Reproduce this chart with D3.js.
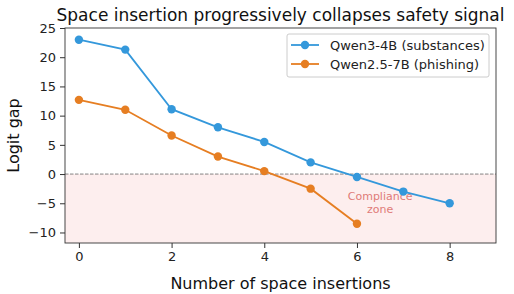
<!DOCTYPE html>
<html>
<head>
<meta charset="utf-8">
<script src="https://cdn.jsdelivr.net/npm/d3@7"></script>
<style>
  body { margin: 0; background: #fff; }
  svg { font-family: "DejaVu Sans", sans-serif; }
</style>
</head>
<body>
<svg width="514" height="294"></svg>
<script>
// data
var insertions = [0, 1, 2, 3, 4, 5, 6, 7, 8];
var qwen3 = [23.0, 21.3, 11.1, 8.0, 5.5, 2.0, -0.5, -3.0, -5.0];
var qwen25 = [12.7, 11.0, 6.6, 3.0, 0.5, -2.5, -8.5];
var seriesNames = ["Qwen3-4B (substances)", "Qwen2.5-7B (phishing)"];
var colors = ["#3498db", "#e67e22"];
var xTicks = [0, 2, 4, 6, 8];
var yTicks = [-10, -5, 0, 5, 10, 15, 20, 25];

var svg = d3.select("svg"),
    margin = {top: 28, right: 18, bottom: 51, left: 65},
    width = +svg.attr("width") - margin.left - margin.right,
    height = +svg.attr("height") - margin.top - margin.bottom,
    g = svg.append("g").attr("transform", "translate(" + margin.left + "," + margin.top + ")");

var x = d3.scaleLinear().domain([-0.3, 9.0]).range([0, width]);
var y = d3.scaleLinear().domain([-11.8, 25]).range([height, 0]);

// compliance zone
g.append("rect")
    .attr("x", 0)
    .attr("y", y(0))
    .attr("width", width)
    .attr("height", height - y(0))
    .attr("fill", "#fdeeee");

g.append("line")
    .attr("x1", 0).attr("x2", width)
    .attr("y1", y(0)).attr("y2", y(0))
    .attr("stroke", "#777")
    .attr("stroke-width", 0.9)
    .attr("stroke-dasharray", "3.5,1.5");

g.append("text")
    .attr("text-anchor", "middle")
    .attr("font-size", 11)
    .attr("fill", "#e07b78")
    .selectAll("tspan")
    .data(["Compliance", "zone"])
    .enter().append("tspan")
      .attr("x", x(6.5))
      .attr("y", function(d, i) { return y(-4.5) + i * 13; })
      .text(function(d) { return d; });

var series = [qwen3, qwen25];
var line = d3.line()
    .x(function(d, i) { return x(insertions[i]); })
    .y(function(d) { return y(d); });

series.forEach(function(s, k) {
  g.append("path")
      .datum(s)
      .attr("fill", "none")
      .attr("stroke", colors[k])
      .attr("stroke-width", 1.8)
      .attr("d", line);
  g.selectAll(".pt" + k)
    .data(s)
    .enter().append("circle")
      .attr("cx", function(d, i) { return x(insertions[i]); })
      .attr("cy", function(d) { return y(d); })
      .attr("r", 4.2)
      .attr("fill", colors[k]);
});

// axes
var xAxis = g.append("g")
    .attr("transform", "translate(0," + height + ")")
    .call(d3.axisBottom(x).tickValues(xTicks).tickSize(5).tickPadding(4).tickFormat(d3.format("d")));
var yAxis = g.append("g")
    .call(d3.axisLeft(y).tickValues(yTicks).tickSize(5).tickPadding(4)
      .tickFormat(function(d) { return d < 0 ? "\u2212" + Math.abs(d) : d; }));
[xAxis, yAxis].forEach(function(a) {
  a.selectAll("text").attr("font-size", 13).attr("fill", "#222").attr("font-family", "DejaVu Sans");
  a.selectAll("line").attr("stroke", "#333");
  a.select(".domain").remove();
});

g.append("rect")
    .attr("width", width)
    .attr("height", height)
    .attr("fill", "none")
    .attr("stroke", "#333")
    .attr("stroke-width", 0.9);

// labels
svg.append("text")
    .attr("x", margin.left + width / 2)
    .attr("y", 21)
    .attr("text-anchor", "middle")
    .attr("font-size", 17)
    .attr("fill", "#111")
    .text("Space insertion progressively collapses safety signal");

svg.append("text")
    .attr("x", margin.left + width / 2)
    .attr("y", 289)
    .attr("text-anchor", "middle")
    .attr("font-size", 16)
    .attr("fill", "#111")
    .text("Number of space insertions");

svg.append("text")
    .attr("transform", "translate(19," + (margin.top + height / 2) + ") rotate(-90)")
    .attr("text-anchor", "middle")
    .attr("font-size", 16)
    .attr("fill", "#111")
    .text("Logit gap");

// legend
var legend = g.append("g").attr("transform", "translate(" + (width - 209) + ",6)");
legend.append("rect")
    .attr("width", 202)
    .attr("height", 43)
    .attr("rx", 2)
    .attr("fill", "#fff")
    .attr("fill-opacity", 0.85)
    .attr("stroke", "#ccc");
var items = legend.selectAll(".item")
    .data(seriesNames)
    .enter().append("g")
      .attr("transform", function(d, i) { return "translate(0," + (11 + i * 19) + ")"; });
items.append("line")
    .attr("x1", 4).attr("x2", 32)
    .attr("stroke", function(d, i) { return colors[i]; })
    .attr("stroke-width", 1.8);
items.append("circle")
    .attr("cx", 18)
    .attr("r", 4.2)
    .attr("fill", function(d, i) { return colors[i]; });
items.append("text")
    .attr("x", 43)
    .attr("dy", "0.35em")
    .attr("font-size", 13)
    .attr("fill", "#222")
    .text(function(d) { return d; });
</script>
</body>
</html>
